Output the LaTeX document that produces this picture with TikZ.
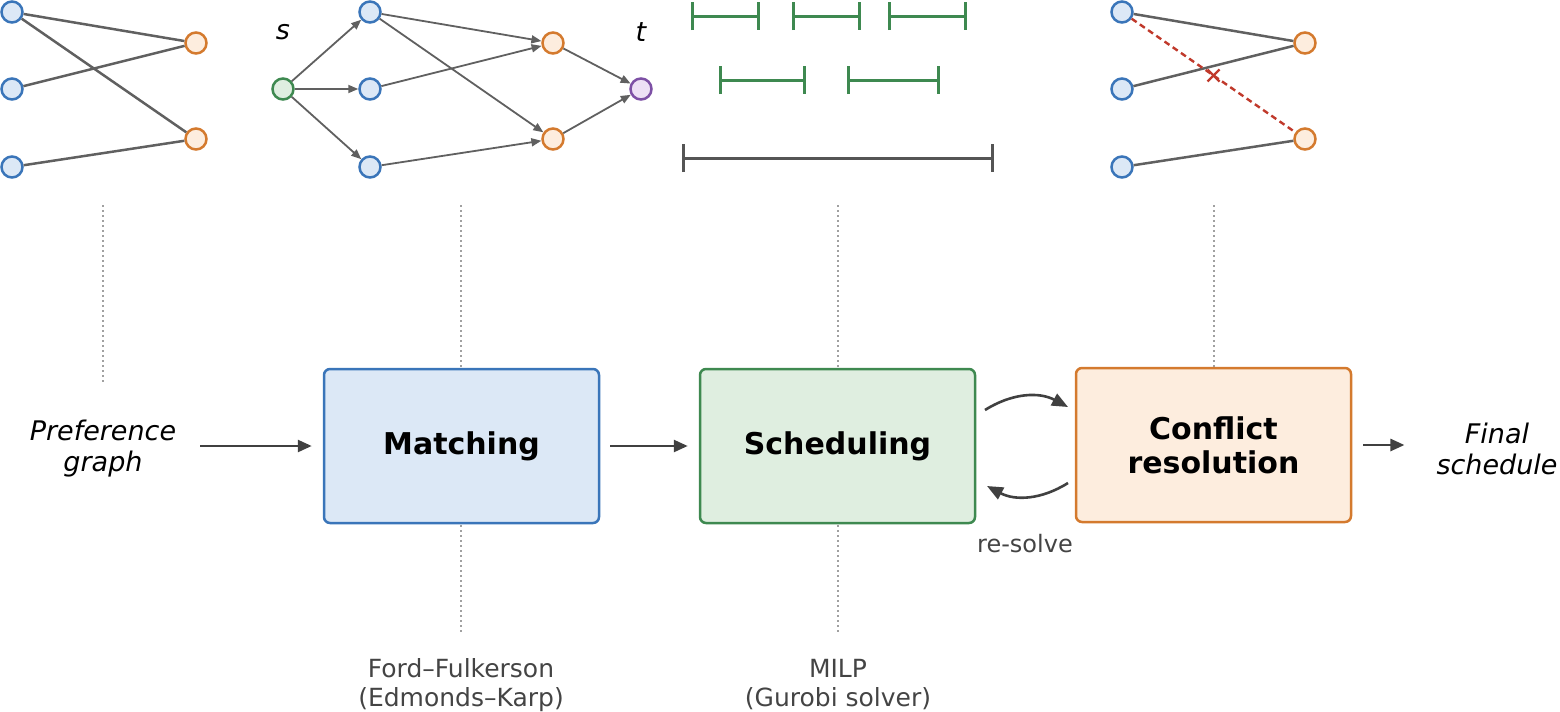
\documentclass[tikz,border=0pt]{standalone}
\usepackage{fontspec}
\setmainfont{DejaVu Sans}
\usetikzlibrary{arrows.meta,positioning}

\definecolor{blueedge}{RGB}{58,117,185}
\definecolor{bluefill}{RGB}{220,232,246}
\definecolor{greenedge}{RGB}{62,137,80}
\definecolor{greenfill}{RGB}{223,238,224}
\definecolor{orangeedge}{RGB}{212,122,46}
\definecolor{orangefill}{RGB}{253,237,222}
\definecolor{purpleedge}{RGB}{125,80,165}
\definecolor{purplefill}{RGB}{237,224,245}
\definecolor{edgegray}{RGB}{96,96,96}
\definecolor{arrowgray}{RGB}{64,64,64}
\definecolor{labelgray}{RGB}{68,68,68}
\definecolor{spangray}{RGB}{85,85,85}
\definecolor{guidegray}{RGB}{160,160,160}
\definecolor{clashred}{RGB}{192,57,43}

\begin{document}
\begin{tikzpicture}[x=0.5pt,y=-0.5pt,
    vtx/.style={circle,draw,line width=1.25pt,minimum size=10.5pt,inner sep=0pt},
    lvtx/.style={vtx,draw=blueedge,fill=bluefill},
    rvtx/.style={vtx,draw=orangeedge,fill=orangefill},
    bip/.style={line width=1.25pt,edgegray},
    flowedge/.style={line width=0.9pt,edgegray,-{Triangle[length=5pt,width=4pt]}},
    stage/.style={draw,line width=1.25pt,rounded corners=3pt,minimum width=137.5pt,
        minimum height=77pt,align=center,font=\fontsize{15}{17}\selectfont\bfseries},
    pipe/.style={line width=1.3pt,arrowgray,-{Triangle[length=7pt,width=6pt]}},
    retry/.style={line width=1.3pt,arrowgray,-{Triangle[length=8pt,width=6.5pt]}},
    guide/.style={line width=0.75pt,guidegray,dash pattern=on 1pt off 1.5pt},
    slot/.style={line width=1.5pt,greenedge,{Bar[width=14pt]}-{Bar[width=14pt]}},
    note/.style={text=labelgray,align=center,font=\fontsize{12.5}{14.5}\selectfont},
    io/.style={align=center,font=\fontsize{13.5}{15.5}\selectfont\itshape}
]
\useasboundingbox (0,0) rectangle (1560,712);

% Guide lines from the sketches down to the stages
\draw [guide] (103,205) -- (103,385);
\draw [guide] (461,205) -- (461,635);
\draw [guide] (838,205) -- (838,635);
\draw [guide] (1214,205) -- (1214,368);

% Preference graph
\node [lvtx] (pa1) at (12,12) {};
\node [lvtx] (pa2) at (12,89) {};
\node [lvtx] (pa3) at (12,167) {};
\node [rvtx] (pb1) at (196,43) {};
\node [rvtx] (pb2) at (196,139) {};
\draw [bip] (pa1) -- (pb1);
\draw [bip] (pa1) -- (pb2);
\draw [bip] (pa2) -- (pb1);
\draw [bip] (pa3) -- (pb2);

% Flow network
\node [vtx,draw=greenedge,fill=greenfill] (src) at (283,89) {};
\node [lvtx] (fa1) at (370,12) {};
\node [lvtx] (fa2) at (370,89) {};
\node [lvtx] (fa3) at (370,167) {};
\node [rvtx] (fb1) at (553,43) {};
\node [rvtx] (fb2) at (553,139) {};
\node [vtx,draw=purpleedge,fill=purplefill] (snk) at (641,89) {};
\node [io] (srclbl) at (283,32) {s};
\node [io] (snklbl) at (641,32) {t};
\foreach \u/\v in {src/fa1,src/fa2,src/fa3,fa1/fb1,fa1/fb2,fa2/fb1,fa3/fb2,fb1/snk,fb2/snk}
  \draw [flowedge] (\u) -- (\v);

% Time slots
\foreach \a/\b/\y in {691/760/16,792/861/16,888/967/16,719/806/80,847/940/80}
  \draw [slot] (\a,\y) -- (\b,\y);
\draw [slot,spangray] (682,158) -- (994,158);

% Conflicting assignment
\node [lvtx] (qa1) at (1122,12) {};
\node [lvtx] (qa2) at (1122,89) {};
\node [lvtx] (qa3) at (1122,167) {};
\node [rvtx] (qb1) at (1305,43) {};
\node [rvtx] (qb2) at (1305,139) {};
\draw [bip] (qa1) -- (qb1);
\draw [bip] (qa2) -- (qb1);
\draw [bip] (qa3) -- (qb2);
\draw [line width=1.2pt,clashred,dash pattern=on 3pt off 2pt] (qa1) -- (qb2) coordinate [midway] (xm);
\draw [line width=1.2pt,clashred] ([shift={(-6,-6)}]xm) -- ([shift={(6,6)}]xm);
\draw [line width=1.2pt,clashred] ([shift={(-6,6)}]xm) -- ([shift={(6,-6)}]xm);

% Pipeline stages
\node [stage,draw=blueedge,fill=bluefill] (match) at (461.5,446) {Matching};
\node [stage,draw=greenedge,fill=greenfill] (sched) at (837.5,446) {Scheduling};
\node [stage,draw=orangeedge,fill=orangefill] (resolve) at (1213.5,445) {Conflict\\resolution};
\node [io] (pref) at (103,449) {Preference\\graph};
\node [io] (final) at (1497,449) {Final\\schedule};
\draw [pipe,shorten <=8.5pt,shorten >=5.5pt] (pref.east |- match) -- (match);
\draw [pipe,shorten <=5pt,shorten >=5.5pt] (match) -- (sched);
\draw [pipe,shorten <=5.5pt,shorten >=12.5pt] (resolve) -- (final.west |- resolve);

% Re-solve loop
\coordinate (fwdA) at (985,410);
\coordinate (fwdB) at (1068,407);
\coordinate (backA) at (1068,483);
\coordinate (backB) at (987,486);
\draw [retry] (fwdA) to [bend left=30] (fwdB);
\draw [retry] (backA) to [bend left=30] (backB);
\node [note,font=\fontsize{12}{14}\selectfont] (resolvelbl) at (1025,544) {re-solve};

% Methods
\node [note] (ffnote) at (461,685) {Ford--Fulkerson\\(Edmonds--Karp)};
\node [note] (milpnote) at (838,685) {MILP\\(Gurobi solver)};
\end{tikzpicture}
\end{document}
